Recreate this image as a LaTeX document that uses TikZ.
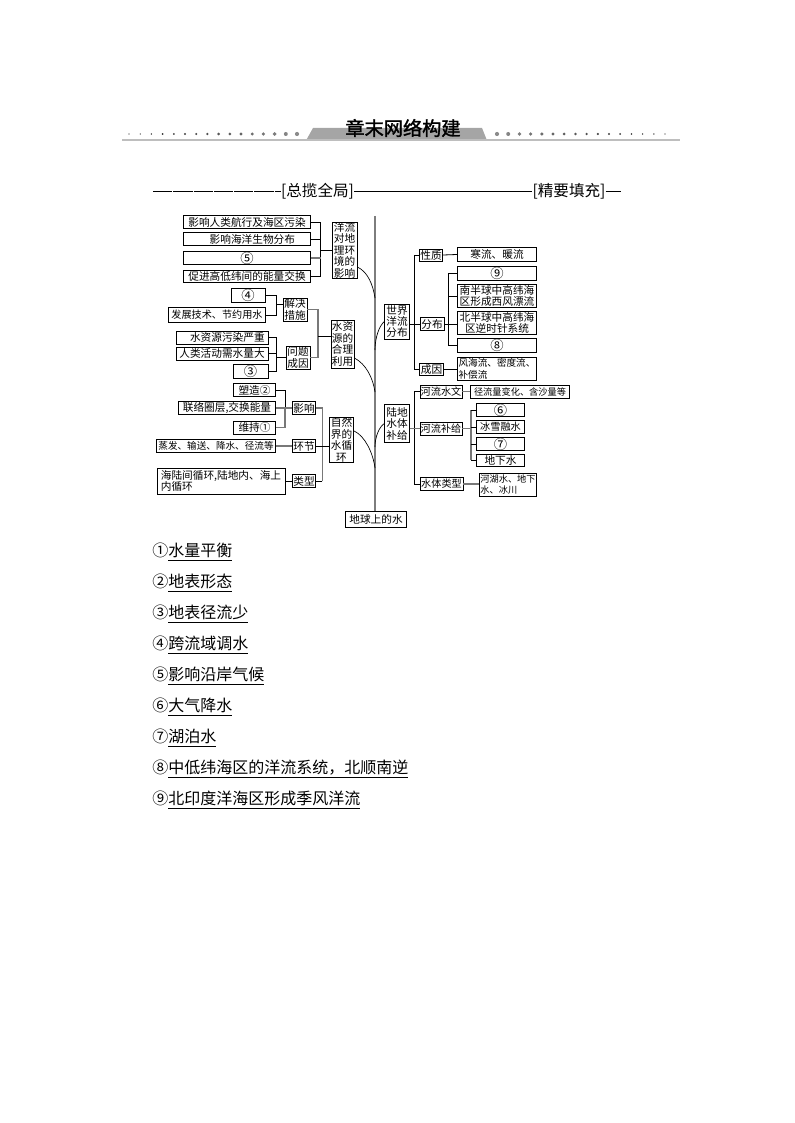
\documentclass[tikz,border=0pt]{standalone}
\usepackage{fontspec}
\newfontfamily\cjk{Noto Sans CJK SC}
\newfontfamily\cjktitle[FakeBold=1.6]{Noto Sans CJK SC}
\tikzset{
  mapbox/.style 2 args={draw=black,line width=0.6pt,fill=white,inner sep=0pt,align=center,
    minimum width=#1*0.75pt,minimum height=#2*0.75pt,font=\cjk\fontsize{8}{8.6}\selectfont},
  tightbox/.style={font=\cjk\fontsize{7.6}{8.6}\selectfont},
  slimbox/.style={font=\cjk\fontsize{7.2}{8.6}\selectfont},
  narrowbox/.style={font=\cjk\fontsize{6.9}{8.2}\selectfont},
  circlebox/.style={font=\cjk\fontsize{10}{10}\selectfont},
  blackline/.style={draw=black,line width=0.6pt},
  greyline/.style={draw={rgb,255:red,120;green,120;blue,120},line width=0.9pt},
  spineline/.style={draw={rgb,255:red,125;green,125;blue,125},line width=1.3pt},
  headtext/.style={inner sep=0pt,font=\cjk\fontsize{11.7}{12}\selectfont},
  itemtext/.style={inner sep=0pt,anchor=west,font=\cjk\fontsize{12}{13}\selectfont},
}
\begin{document}
\begin{tikzpicture}[x=0.75pt,y=0.75pt,yscale=-1]
\useasboundingbox (0,0) rectangle (794,1123);

%Title band
\fill [fill={rgb,255:red,165;green,165;blue,165}] (306,140.5) -- (313,128) -- (482,128) -- (487,140.5) -- cycle;
\draw [draw={rgb,255:red,190;green,190;blue,190},line width=1pt] (122,140) -- (680,140);
\foreach \i in {0,...,15} {
  \pgfmathsetmacro{\rad}{2.1-\i*0.1}
  \pgfmathsetmacro{\shade}{45+\i*3}
  \fill [black!\shade] (297-\i*11.2,134) circle [radius=\rad];
  \fill [black!\shade] (497+\i*11.2,134) circle [radius=\rad];
}
% Text Node
\node [inner sep=0pt,font=\cjktitle\fontsize{14.4}{15}\selectfont] (title) at (403,128) {章末网络构建};

% Text Node
\node [headtext] (heada) at (317.5,191) {[总揽全局]};
% Text Node
\node [headtext] (headb) at (569,191) {[精要填充]};
\coordinate (headstart) at (153,191);
\coordinate (headend) at (621,191);
%Straight Lines
\draw [line width=0.5pt,dash pattern=on 14.5pt off 0.7pt] (headstart) -- (heada.west);
\draw [line width=0.6pt] (heada.east) -- (headb.west);
\draw [line width=0.6pt] (headb.east) -- (headend);

%Left branches, upper
\node [mapbox={127}{13}] (a1) at (247,222) {影响人类航行及海区污染};
\node [mapbox={127}{13}] (a2) at (247,239) {\quad 影响海洋生物分布};
\node [mapbox={127}{13},circlebox] (a3) at (247,258) {⑤};
\node [mapbox={127}{12}] (a4) at (247,276) {促进高低纬间的能量交换};
\node [mapbox={25}{56}] (b1) at (344.5,250) {洋流\\对地\\理环\\境的\\影响};

\node [mapbox={34}{14},circlebox] (c1) at (248,295) {④};
\node [mapbox={97}{15},tightbox] (c2) at (217,315) {发展技术、节约用水};
\node [mapbox={24}{23}] (c3) at (295,309.5) {解决\\措施};
\node [mapbox={92}{13}] (c4) at (222,337.5) {\quad 水资源污染严重};
\node [mapbox={92}{13}] (c5) at (222,353.5) {人类活动需水量大};
\node [mapbox={35}{14},circlebox] (c6) at (250.5,371) {③};
\node [mapbox={24}{23}] (c7) at (298,357.5) {问题\\成因};
\node [mapbox={23}{48}] (b2) at (342.5,344) {水资\\源的\\合理\\利用};

\node [mapbox={42}{13}] (d1) at (254.5,390) {塑造②};
\node [mapbox={97}{12.5}] (d2) at (227,408) {联络圈层,交换能量};
\node [mapbox={42}{13}] (d3) at (254.5,427.5) {维持①};
\node [mapbox={23}{12.5}] (d4) at (304,408) {影响};
\node [mapbox={119}{12.5},slimbox] (d5) at (216,446) {蒸发、输送、降水、径流等};
\node [mapbox={23}{12.5}] (d6) at (304,446) {环节};
\node [mapbox={128}{26},align=left] (d7) at (221,481) {海陆间循环,陆地内、海上\\内循环\hspace{5.2em}};
\node [mapbox={23}{12.5}] (d8) at (304,481) {类型};
\node [mapbox={24.5}{45}] (b3) at (341.5,440) {自然\\界的\\水循\\环\hspace{1em}};

\node [mapbox={61}{16}] (root) at (376,519) {地球上的水};

%Right branches
\node [mapbox={24.5}{35}] (b4) at (397,321.5) {世界\\洋流\\分布};
\node [mapbox={23.5}{12}] (e1) at (431,255) {性质};
\node [mapbox={24}{13}] (e2) at (432,324) {分布};
\node [mapbox={24.5}{12.5}] (e3) at (431.5,369.5) {成因};
\node [mapbox={79.5}{14}] (f1) at (497,254.5) {寒流、暖流};
\node [mapbox={79.5}{13.5},circlebox] (f2) at (497,273.3) {⑨};
\node [mapbox={79.5}{23.5}] (f3) at (497,296) {南半球中高纬海\\区形成西风漂流};
\node [mapbox={79.5}{23.5}] (f4) at (497,322.7) {北半球中高纬海\\区逆时针系统\hspace{1em}};
\node [mapbox={79.5}{14},circlebox] (f5) at (497,345.3) {⑧};
\node [mapbox={79.5}{23},slimbox,align=left] (f6) at (497,368.7) {风海流、密度流、\\补偿流\hspace{5em}};

\node [mapbox={24.5}{38.5}] (b5) at (397,423.5) {陆地\\水体\\补给};
\node [mapbox={42}{13.3},tightbox] (g1) at (441,391.7) {河流水文};
\node [mapbox={98.5}{13.3},narrowbox] (g2) at (520,391.7) {径流量变化、含沙量等};
\node [mapbox={42}{12.7},tightbox] (g3) at (441,428.7) {河流补给};
\node [mapbox={43}{12.5},tightbox] (g4) at (441.5,484) {水体类型};
\node [mapbox={57.5}{22.7},narrowbox,align=left] (g5) at (508,484.7) {河湖水、地下\\水、冰川\hspace{2em}};
\node [mapbox={48.7}{13.4},circlebox] (h1) at (500.5,410) {⑥};
\node [mapbox={48.7}{12.7},tightbox] (h2) at (500.5,427) {冰雪融水};
\node [mapbox={48.7}{13.4},circlebox] (h3) at (500.5,444) {⑦};
\node [mapbox={48.7}{12.7}] (h4) at (500.5,460.3) {地下水};

%Bracket points
\coordinate (brka) at (320.7,250);
\coordinate (brkc) at (276,304);
\coordinate (brkd) at (276,357.5);
\coordinate (brkb) at (318,336);
\coordinate (brke) at (285,408);
\coordinate (brkf) at (322.3,446);
\coordinate (brkg) at (414,324);
\coordinate (brkh) at (448.3,324);
\coordinate (brki) at (414,428.7);
\coordinate (brkj) at (471,428.7);

%Straight Lines
\draw [blackline] (a1.east) -- (a1.east -| brka) -- (a4.east -| brka) -- (a4.east);
\draw [blackline] (a2.east) -- (a2.east -| brka);
\draw [greyline] (a3.east) -- (a3.east -| brka);
\draw [blackline] (brka) -- (brka -| b1.west);

\draw [blackline] (c1.east) -- (c1.east -| brkc) -- (c2.east -| brkc) -- (c2.east);
\draw [blackline] (brkc) -- (brkc -| c3.west);
\draw [blackline] (c4.east) -- (c4.east -| brkd) -- (c6.east -| brkd) -- (c6.east);
\draw [blackline] (c5.east) -- (c5.east -| brkd);
\draw [blackline] (brkd) -- (c7.west);
\draw [greyline] (c3.east) -- (c3.east -| brkb) -- (c7.east -| brkb) -- (c7.east);
\draw [blackline] (brkb) -- (brkb -| b2.west);

\draw [blackline] (d1.east) -- (d1.east -| brke) -- (brke);
\draw [greyline] (brke) -- (d3.east -| brke) -- (d3.east);
\draw [greyline] (d2.east) -- (d4.west);
\draw [greyline] (d5.east) -- (d6.west);
\draw [blackline] (d7.east |- d8.west) -- (d8.west);
\draw [greyline] (d4.east) -- (d4.east -| brkf) -- (d8.east -| brkf);
\draw [blackline] (d8.east -| brkf) -- (d8.east);
\draw [blackline] (d6.east) -- (d6.east -| b3.west);

\draw [blackline] (e1.west) -- (e1.west -| brkg) -- (brkg);
\draw [blackline] (brkg) -- (e3.west -| brkg) -- (e3.west);
\draw [blackline] (b4.east |- e2.west) -- (e2.west);
\draw [blackline] (e1.east) -- (f1.west);
\draw [blackline] (e3.east) -- (e3.east -| f6.west);
\draw [blackline] (e2.east) -- (e2.east -| f4.west);
\draw [blackline] (f2.west) -- (f2.west -| brkh) -- (f5.west -| brkh) -- (f5.west);
\draw [blackline] (f3.west) -- (f3.west -| brkh);

\draw [blackline] (g1.west) -- (g1.west -| brki) -- (g4.west -| brki) -- (g4.west);
\draw [greyline] (b5.east |- g3.west) -- (g3.west);
\draw [greyline] (g1.east) -- (g2.west);
\draw [greyline] (g3.east) -- (g3.east -| brkj);
\draw [greyline] (h1.west -| brkj) -- (h4.west -| brkj);
\draw [blackline] (h1.west) -- (h1.west -| brkj);
\draw [blackline] (h2.west) -- (h2.west -| brkj);
\draw [blackline] (h3.west) -- (h3.west -| brkj);
\draw [blackline] (h4.west) -- (h4.west -| brkj);
\draw [greyline] (g4.east) -- (g4.east -| g5.west);

%Spine and curves
\coordinate (spinetop) at (375,216);
\coordinate (spinea) at (375,298);
\coordinate (spineb) at (375,392);
\coordinate (spinec) at (375,468);
\coordinate (spined) at (375,350);
\coordinate (spinee) at (375,447);
\draw [spineline] (spinetop) -- (spinetop |- root.north);
\draw [line width=0.5pt] ([yshift=12.75pt]b1.east) .. controls (368,272) and (373,285) .. (spinea);
\draw [line width=0.5pt] ([yshift=10.5pt]b2.east) .. controls (366,364) and (373,378) .. (spineb);
\draw [line width=0.5pt] ([yshift=-6.75pt]b3.east) .. controls (365,436) and (373,453) .. (spinec);
\draw [line width=0.5pt] (b4.west) .. controls (379,326) and (375,338) .. (spined);
\draw [line width=0.5pt] (b5.west) .. controls (379,427) and (375,437) .. (spinee);

%Answers
\foreach \n/\m/\y/\t in {1/①/552/水量平衡,2/②/583/地表形态,3/③/614/地表径流少,4/④/645/跨流域调水,5/⑤/676/影响沿岸气候,6/⑥/707/大气降水,7/⑦/738/湖泊水,8/⑧/769/中低纬海区的洋流系统，北顺南逆,9/⑨/800/北印度洋海区形成季风洋流}
  \node [itemtext] (item\n) at (152,\y) {\m\underline{\t}};

\end{tikzpicture}
\end{document}
